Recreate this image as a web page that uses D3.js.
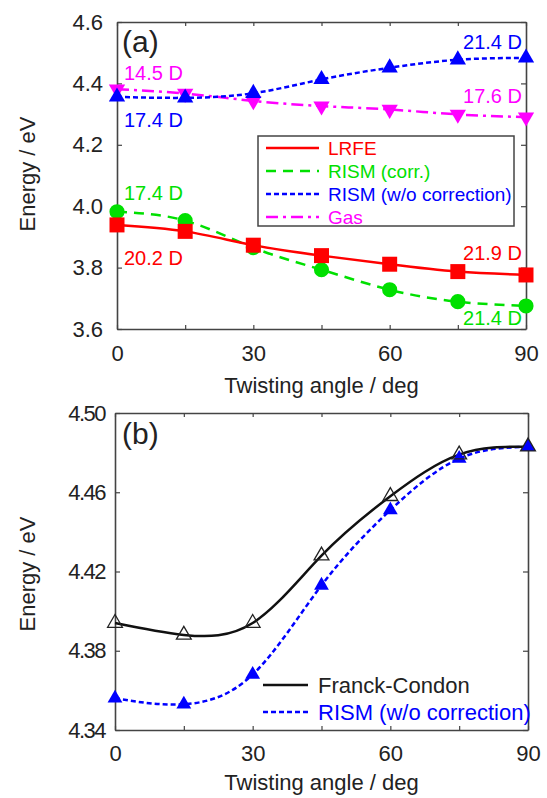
<!DOCTYPE html>
<html>
<head>
<meta charset="utf-8">
<script src="https://cdn.jsdelivr.net/npm/d3@7"></script>
<style>
  body { margin: 0; background: #fff; }
  svg { display: block; font-family: "Liberation Sans", Arial, sans-serif; }
</style>
</head>
<body>
<script>
// twisting angles (deg) and energies (eV)
const angles = [0, 15, 30, 45, 60, 75, 90];
const lrfe = [3.939, 3.918, 3.873, 3.839, 3.811, 3.787, 3.776];
const rismCorr = [3.982, 3.953, 3.865, 3.793, 3.728, 3.689, 3.675];
const rismNoCorr = [4.356, 4.353, 4.368, 4.413, 4.451, 4.477, 4.483];
const gas = [4.381, 4.367, 4.343, 4.326, 4.315, 4.299, 4.290];
const franckCondon = [4.394, 4.388, 4.394, 4.428, 4.458, 4.479, 4.483];

const xTicks = [0, 15, 30, 45, 60, 75, 90];
const xLabels = [0, 30, 60, 90];
const yTicksA = [3.6, 3.8, 4.0, 4.2, 4.4, 4.6];
const yTicksB = [4.34, 4.38, 4.42, 4.46, 4.50];

var width = 547,
  height = 798;

var svg = d3
  .select("body")
  .append("svg")
  .attr("width", width)
  .attr("height", height);

var RED = "#ff0000",
  GREEN = "#00e000",
  BLUE = "#0000ff",
  MAGENTA = "#ff00ff",
  INK = "#222";

var xA = d3.scaleLinear().domain([0, 90]).range([117, 526]);
var yA = d3.scaleLinear().domain([3.6, 4.6]).range([329, 22]);
var xB = d3.scaleLinear().domain([0, 90]).range([115, 528]);
var yB = d3.scaleLinear().domain([4.34, 4.5]).range([730, 413]);

function pairs(values) {
  return angles.map(function (a, i) {
    return [a, values[i]];
  });
}

function drawFrame(x, y, yTicks, yFmt, yPad, xPad, condensed) {
  var g = svg.append("g").attr("class", "frame");
  var x0 = x.range()[0],
    x1 = x.range()[1],
    y0 = y.range()[0],
    y1 = y.range()[1];

  g.append("g")
    .attr("transform", "translate(0," + y0 + ")")
    .call(
      d3
        .axisBottom(x)
        .tickValues(xTicks)
        .tickSizeInner(-4)
        .tickSizeOuter(0)
        .tickPadding(xPad)
        .tickFormat(function (d) {
          return xLabels.indexOf(d) >= 0 ? d : "";
        })
    );
  g.append("g")
    .attr("transform", "translate(0," + y1 + ")")
    .call(
      d3.axisTop(x).tickValues(xTicks).tickSizeInner(-4).tickSizeOuter(0).tickFormat("")
    );
  var left = g
    .append("g")
    .attr("transform", "translate(" + x0 + ",0)")
    .call(
      d3
        .axisLeft(y)
        .tickValues(yTicks)
        .tickSizeInner(-5)
        .tickSizeOuter(0)
        .tickPadding(yPad)
        .tickFormat(d3.format(yFmt))
    );
  g.append("g")
    .attr("transform", "translate(" + x1 + ",0)")
    .call(
      d3.axisRight(y).tickValues(yTicks).tickSizeInner(-5).tickSizeOuter(0).tickFormat("")
    );

  g.selectAll(".domain").attr("stroke", "#444").attr("stroke-width", 1.6);
  g.selectAll(".tick line").attr("stroke", "#444").attr("stroke-width", 1.2);
  g.selectAll(".tick text")
    .attr("fill", INK)
    .style("font-size", "22px")
    .style("font-family", '"Liberation Sans", Arial, sans-serif');
  if (condensed) left.selectAll(".tick text").style("letter-spacing", "-1.5px");
  return g;
}

function drawLine(x, y, values, color, dash, width) {
  var line = d3
    .line()
    .x(function (d) {
      return x(d[0]);
    })
    .y(function (d) {
      return y(d[1]);
    })
    .curve(d3.curveNatural);
  svg
    .append("path")
    .datum(pairs(values))
    .attr("d", line)
    .attr("fill", "none")
    .attr("stroke", color)
    .attr("stroke-width", width || 2.5)
    .attr("stroke-dasharray", dash || null);
}

function drawMarks(x, y, values, type, size, fill, stroke, rotate) {
  svg
    .append("g")
    .selectAll("path")
    .data(pairs(values))
    .enter()
    .append("path")
    .attr("d", d3.symbol().type(type).size(size))
    .attr("transform", function (d) {
      return "translate(" + x(d[0]) + "," + y(d[1]) + ")" + (rotate ? " rotate(180)" : "");
    })
    .attr("fill", fill)
    .attr("stroke", stroke || "none")
    .attr("stroke-width", stroke ? 1.3 : 0);
}

function label(x, y, txt, color, size, anchor) {
  svg
    .append("text")
    .attr("x", x)
    .attr("y", y)
    .attr("fill", color)
    .attr("text-anchor", anchor || "start")
    .attr("dominant-baseline", "central")
    .style("font-size", size + "px")
    .text(txt);
}

// ---------- panel (a) ----------
drawFrame(xA, yA, yTicksA, ".1f", 14, 16, false);

drawLine(xA, yA, gas, MAGENTA, "12,5,3,5");
drawLine(xA, yA, rismNoCorr, BLUE, "5,3");
drawLine(xA, yA, rismCorr, GREEN, "10,7");
drawLine(xA, yA, lrfe, RED);

drawMarks(xA, yA, gas, d3.symbolTriangle, 115, MAGENTA, null, true);
drawMarks(xA, yA, rismNoCorr, d3.symbolTriangle, 115, BLUE);
drawMarks(xA, yA, rismCorr, d3.symbolCircle, 180, GREEN);
drawMarks(xA, yA, lrfe, d3.symbolSquare, 225, RED);

var xl = xA(0) + 7,
  xr = xA(90) - 4;
label(xr, yA(4.535), "21.4 D", BLUE, 20, "end");
label(xl, yA(4.433), "14.5 D", MAGENTA, 20);
label(xr, yA(4.359), "17.6 D", MAGENTA, 20, "end");
label(xl, yA(4.28), "17.4 D", BLUE, 20);
label(xl, yA(4.044), "17.4 D", GREEN, 20);
label(xl, yA(3.83), "20.2 D", RED, 20);
label(xr, yA(3.848), "21.9 D", RED, 20, "end");
label(xr, yA(3.637), "21.4 D", GREEN, 20, "end");

label(122, 41, "(a)", INK, 30);

// legend (a)
var legA = [
  { name: "LRFE", color: RED, dash: null },
  { name: "RISM (corr.)", color: GREEN, dash: "10,7" },
  { name: "RISM (w/o correction)", color: BLUE, dash: "5,3" },
  { name: "Gas", color: MAGENTA, dash: "12,5,3,5" },
];
svg
  .append("rect")
  .attr("x", 258)
  .attr("y", 136)
  .attr("width", 256)
  .attr("height", 90)
  .attr("fill", "#fff")
  .attr("stroke", "#444")
  .attr("stroke-width", 1.5);
legA.forEach(function (d, i) {
  var ly = 148 + i * 23;
  svg
    .append("line")
    .attr("x1", 266)
    .attr("x2", 319)
    .attr("y1", ly)
    .attr("y2", ly)
    .attr("stroke", d.color)
    .attr("stroke-width", 2.5)
    .attr("stroke-dasharray", d.dash);
  label(328, ly, d.name, d.color, 19);
});

svg
  .append("text")
  .attr("x", (xA(0) + xA(90)) / 2)
  .attr("y", 385)
  .attr("text-anchor", "middle")
  .attr("dominant-baseline", "central")
  .attr("fill", INK)
  .style("font-size", "22px")
  .text("Twisting angle / deg");
svg
  .append("text")
  .attr("transform", "translate(27,174) rotate(-90)")
  .attr("text-anchor", "middle")
  .attr("dominant-baseline", "central")
  .attr("fill", INK)
  .style("font-size", "22px")
  .text("Energy / eV");

// ---------- panel (b) ----------
drawFrame(xB, yB, yTicksB, ".2f", 10, 15, true);

drawLine(xB, yB, rismNoCorr, BLUE, "5,3");
drawLine(xB, yB, franckCondon, "#111");
drawMarks(xB, yB, rismNoCorr, d3.symbolTriangle, 95, BLUE);
drawMarks(xB, yB, franckCondon, d3.symbolTriangle, 95, "none", "#222");

label(122, 433, "(b)", INK, 30);

svg
  .append("line")
  .attr("x1", 263)
  .attr("x2", 308)
  .attr("y1", 685)
  .attr("y2", 685)
  .attr("stroke", "#111")
  .attr("stroke-width", 2.5);
label(318, 685, "Franck-Condon", INK, 22);
svg
  .append("line")
  .attr("x1", 263)
  .attr("x2", 308)
  .attr("y1", 712)
  .attr("y2", 712)
  .attr("stroke", BLUE)
  .attr("stroke-width", 2.5)
  .attr("stroke-dasharray", "5,3");
label(318, 712, "RISM (w/o correction)", BLUE, 22);

svg
  .append("text")
  .attr("x", (xB(0) + xB(90)) / 2)
  .attr("y", 782)
  .attr("text-anchor", "middle")
  .attr("dominant-baseline", "central")
  .attr("fill", INK)
  .style("font-size", "22px")
  .text("Twisting angle / deg");
svg
  .append("text")
  .attr("transform", "translate(27,574) rotate(-90)")
  .attr("text-anchor", "middle")
  .attr("dominant-baseline", "central")
  .attr("fill", INK)
  .style("font-size", "22px")
  .text("Energy / eV");
</script>
</body>
</html>
